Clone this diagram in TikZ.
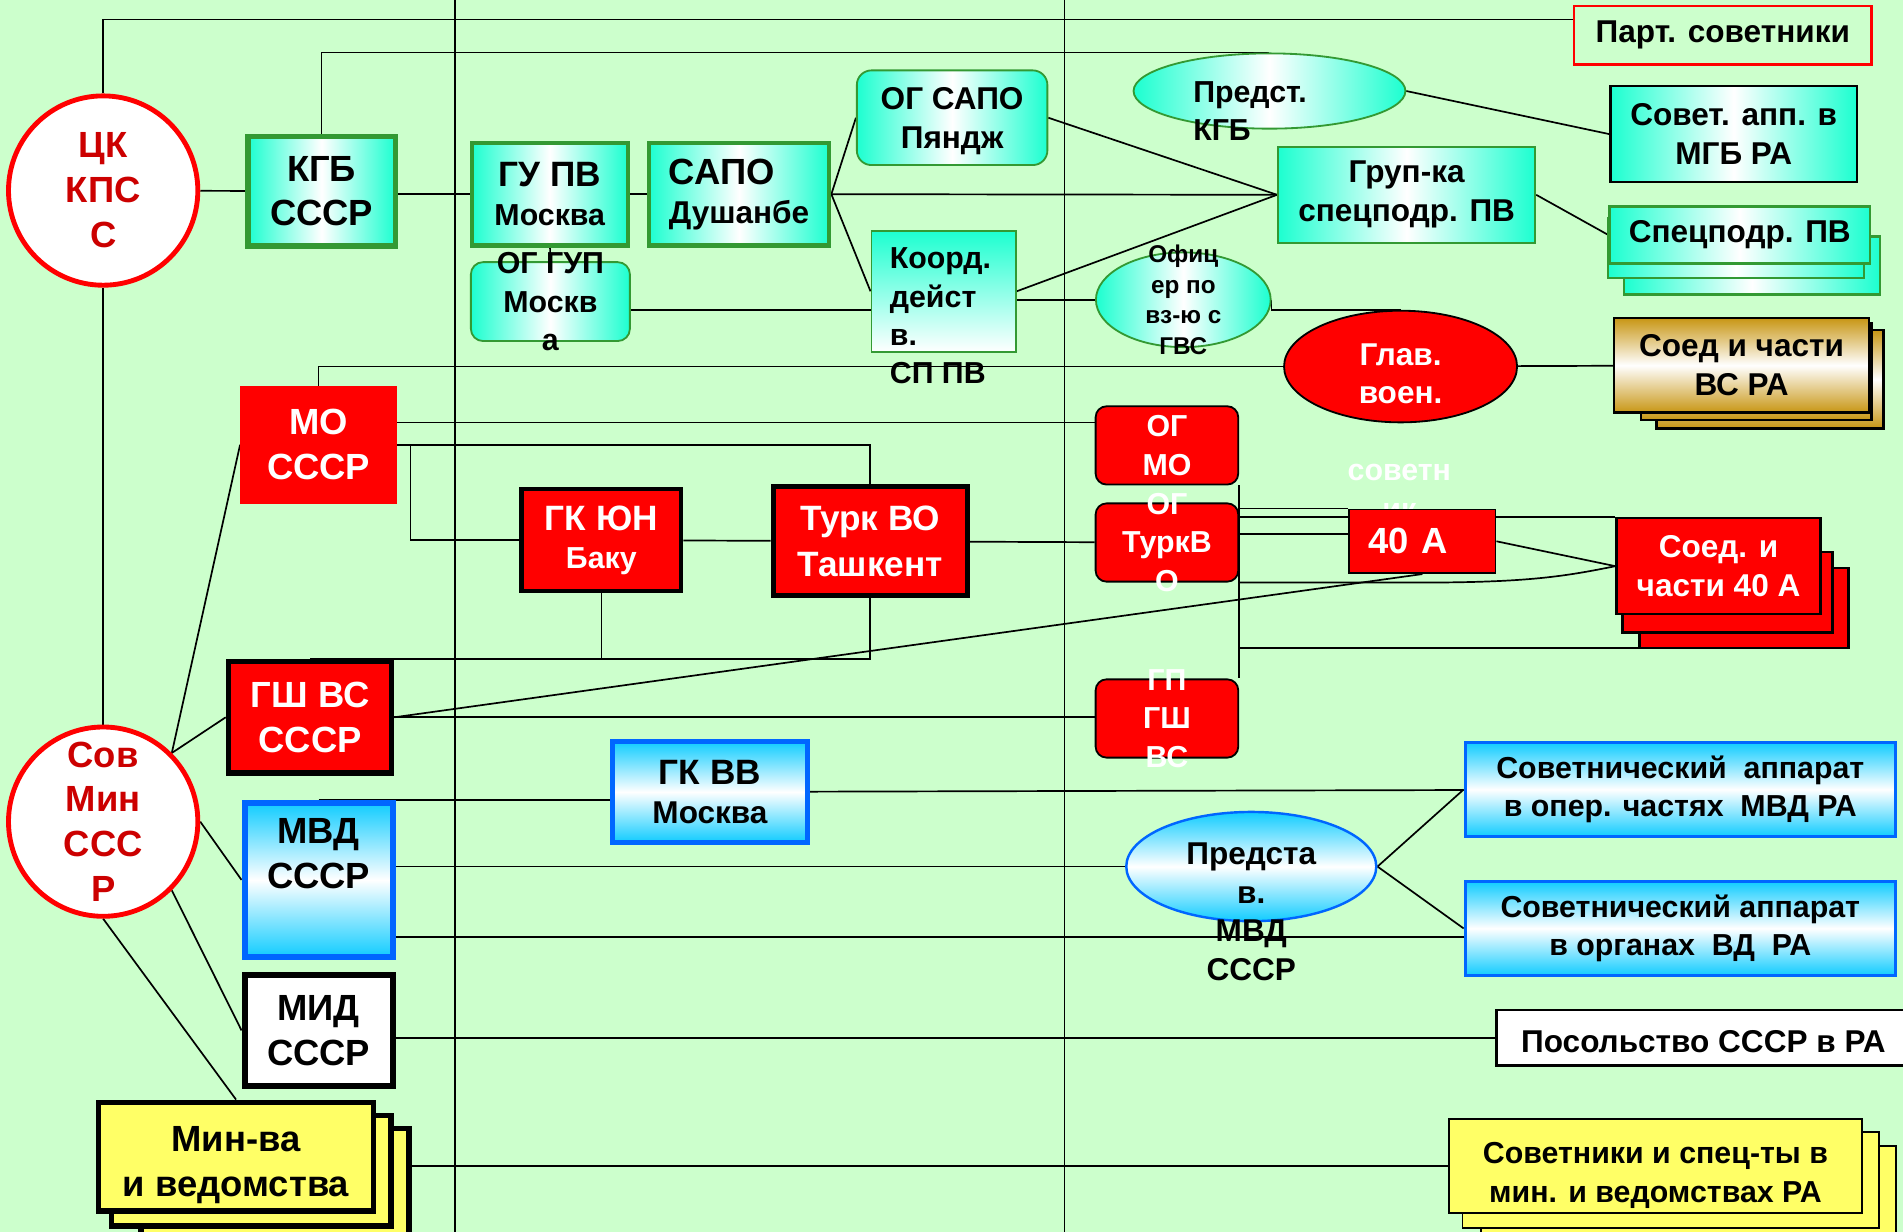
\documentclass[tikz,border=0pt]{standalone}
\usepackage{fontspec}
\setmainfont{Liberation Sans}
\usetikzlibrary{shapes.geometric}
\definecolor{cBg}{RGB}{204,255,204}
\definecolor{cTeal}{RGB}{28,255,208}
\definecolor{cGreen}{RGB}{51,153,51}
\definecolor{cDark}{RGB}{204,0,0}
\definecolor{cBlue}{RGB}{0,102,255}
\definecolor{cCyan}{RGB}{17,204,255}
\definecolor{cYel}{RGB}{255,255,102}
\definecolor{cGold}{RGB}{200,150,20}
\pgfdeclarelayer{bg}
\pgfdeclarelayer{lines}
\pgfsetlayers{bg,lines,main}
\tikzset{
  conn/.style={line width=1.4pt},
  t30/.style={font=\fontsize{30}{37}\selectfont\bfseries},
  t26/.style={font=\fontsize{26}{32}\selectfont\bfseries},
  t25/.style={font=\fontsize{25}{31.6}\selectfont\bfseries},
  t20/.style={font=\fontsize{20}{25.3}\selectfont\bfseries},
  org/.style={circle, draw=red, line width=4pt, fill=white, text=cDark, inner sep=0pt, minimum size=156pt, t30, align=center},
  tealh/.style={draw=cGreen, left color=cTeal, right color=cTeal, middle color=white, inner sep=0pt, align=center},
  tealv/.style={draw=cGreen, top color=cTeal, bottom color=white, inner sep=0pt},
  bluev/.style={draw=cBlue, top color=cCyan, bottom color=cCyan, middle color=white, inner sep=0pt, align=center},
  goldv/.style={draw=black, line width=2pt, top color=cGold, bottom color=cGold, middle color=white, inner sep=0pt, align=center},
  redbox/.style={fill=red, text=white, inner sep=0pt, align=center},
  redround/.style={fill=red, draw=black, line width=1.5pt, rounded corners=9pt, text=white, inner sep=0pt, minimum width=117.5pt, minimum height=64.5pt, align=center},
  red40/.style={fill=red, draw=black, line width=2pt, inner sep=0pt, align=center},
  yelbox/.style={fill=cYel, draw=black, inner sep=0pt, align=center},
  overtext/.style={inner sep=0pt, align=center}
}
\begin{document}
\begin{tikzpicture}[x=1pt,y=-1pt]
\useasboundingbox (0,0) rectangle (1568,1015);
\begin{pgfonlayer}{bg}
\fill[cBg] (0,0) rectangle (1568,1015);
\end{pgfonlayer}

\node[org] (ck) at (85,157) {ЦК\\КПС\\С};
\node[org] (sovmin) at (85,677) {Сов\\Мин\\ССС\\Р};

\node[tealh, line width=4.5pt, minimum width=121.5pt, minimum height=90.5pt, t30] (kgb) at (265,157.5) {КГБ\\СССР};
\node[tealh, line width=3.5pt, minimum width=128.5pt, minimum height=84.5pt, t25] (gupv) at (453,160) {{\fontsize{29}{31.6}\selectfont ГУ ПВ}\\Москва};
\node[tealh, line width=3.5pt, minimum width=148.5pt, minimum height=84.5pt, t26, align=left] (sapo) at (609,160) {{\fontsize{30}{32}\selectfont САПО}\\Душанбе};
\node[tealh, line width=1.5pt, rounded corners=12pt, minimum width=157pt, minimum height=78pt, t26] (ogsapo) at (784.5,97) {};
\node[t26, overtext] (ogsapo-t) at ([yshift=-3pt]ogsapo.center) {ОГ САПО\\Пяндж};
\node[tealv, line width=1.5pt, minimum width=119pt, minimum height=100pt] (kord) at (777.5,240) {};
\node[tealh, line width=1.5pt, rounded corners=10pt, minimum width=131pt, minimum height=65pt] (ogup) at (453.5,248.5) {};
\node[tealh, line width=1.5pt, minimum width=212pt, minimum height=79pt, t26] (grupka) at (1159,160.5) {Груп-ка\\спецподр. ПВ};
\node[ellipse, tealh, line width=1.5pt, minimum width=224pt, minimum height=62pt] (predkgb) at (1046,75) {};
\node[tealh, draw=black, line width=2pt, minimum width=203pt, minimum height=79pt, t26] (sovapp) at (1428.5,110.5) {Совет. апп. в\\МГБ РА};
\node[draw=red, line width=2pt, minimum width=245pt, minimum height=48pt, t26, inner sep=0pt] (part) at (1419.5,29) {Парт. советники};
\draw[tealh, line width=2pt] (1338,195) rectangle (1549,242.5);
\draw[tealh, line width=2pt] (1325,180) rectangle (1536,229);
\node[tealh, line width=2pt, minimum width=215pt, minimum height=47pt, t26] (specpv) at (1433.5,193.5) {Спецподр. ПВ};
\node[ellipse, tealh, line width=1.5pt, minimum width=144pt, minimum height=78pt] (ofic) at (975,247) {};
\node[ellipse, fill=red, draw=black, line width=1.5pt, minimum width=192pt, minimum height=92pt] (glav) at (1154,302) {};
\node[t26, overtext, text=white] (glav-t) at ([yshift=-6pt]glav.center) {Глав.\\воен.};
\draw[goldv] (1365,272) rectangle (1552,353);
\draw[goldv] (1352,266) rectangle (1542,346);
\node[goldv, minimum width=210pt, minimum height=78pt, t26] (soedvs) at (1435,301) {Соед и части\\ВС РА};

\node[redbox, minimum width=129pt, minimum height=97pt, t30] (mo) at (262.5,366.5) {МО\\СССР};
\node[redround, t25] (ogmo) at (961.5,367) {ОГ\\МО};
\node[redround] (ogturk) at (961.5,447) {};
\node[redround] (gpgsh) at (961.5,592) {};
\node[redbox, draw=black, line width=3.5pt, minimum width=131.5pt, minimum height=84.5pt, t25] (gkyun) at (495.5,445) {{\fontsize{29}{31.6}\selectfont ГК ЮН}\\Баку};
\node[redbox, draw=black, line width=4pt, minimum width=160pt, minimum height=90pt, font=\fontsize{29}{38}\selectfont\bfseries] (turk) at (717,446) {Турк ВО\\Ташкент};
\node[redbox, draw=black, line width=4.5pt, minimum width=134.5pt, minimum height=91.5pt, t30] (gsh) at (255.5,591) {ГШ ВС\\СССР};
\node[t25, overtext, text=white, anchor=north] (a40-t) at (1153,382.5) {советн\\ик};
\node[redbox, draw=black, line width=1.5pt, minimum height=52.5pt, text width=88.5pt, inner xsep=16pt, align=left, t30] (a40) at (1172,446) {40 А};
\draw[red40] (1351,468) rectangle (1523,534);
\draw[red40] (1337,455) rectangle (1510,521);
\node[red40, minimum width=168pt, minimum height=79pt, t26, text=white] (soed40) at (1416,466.5) {Соед. и\\части 40 А};

\node[bluev, line width=5pt, minimum width=122pt, minimum height=127pt] (mvd) at (262.5,725) {};
\node[bluev, line width=4pt, minimum width=160pt, minimum height=83pt, t26] (gkvv) at (585,652.5) {{\fontsize{29}{33}\selectfont ГК ВВ}\\Москва};
\node[fill=white, draw=black, line width=5pt, minimum width=122pt, minimum height=91pt, t30, inner sep=0pt, align=center] (mid) at (262.5,849) {МИД\\СССР};
\draw[yelbox, line width=4.5pt] (116,930) rectangle (337,1030);
\draw[yelbox, line width=4.5pt] (92,919) rectangle (322,1010);
\node[yelbox, line width=4.5pt, minimum width=226.5pt, minimum height=89.5pt] (minva) at (194.5,953) {};
\node[t30, overtext] (minva-t) at ([yshift=-7pt]minva.center) {Мин-ва\\и ведомства};
\node[bluev, ellipse, line width=2pt, minimum width=206pt, minimum height=90pt] (predmvd) at (1031,714) {};
\node[bluev, line width=2.5pt, minimum width=354.5pt, minimum height=77.5pt, t25] (sovmvd1) at (1384.5,650.5) {Советнический~ аппарат\\в опер. частях~ МВД РА};
\node[bluev, line width=2.5pt, minimum width=354.5pt, minimum height=77.5pt, t25] (sovmvd2) at (1384.5,765) {Советнический аппарат\\в органах~ ВД~ РА};
\node[fill=white, draw=black, line width=2pt, minimum width=341pt, minimum height=46pt, inner sep=0pt] (posol) at (1403.5,855) {};
\node[t26, overtext] (posol-t) at ([yshift=-3pt]posol.center) {Посольство СССР в РА};
\draw[yelbox, line width=1.5pt] (1220,944) rectangle (1562,1030);
\draw[yelbox, line width=1.5pt] (1205,933) rectangle (1548,1012);
\node[yelbox, line width=1.5pt, minimum width=340.5pt, minimum height=77.5pt] (sovetniki) at (1364,960.5) {};
\node[t25, overtext] (sovetniki-t) at ([yshift=-8pt]sovetniki.center) {Советники и спец-ты в\\мин. и ведомствах РА};

\node[t25, overtext, anchor=north west, align=left] (kord-t) at (733,204) {Коорд.\\дейст\\в.\\СП ПВ};
\node[t25, overtext] (ogup-t) at (ogup) {ОГ ГУП\\Москв\\а};
\node[t25, overtext, anchor=north west, align=left] (predkgb-t) at (983,67) {Предст.\\КГБ};
\node[t20, overtext] (ofic-t) at (ofic) {Офиц\\ер по\\вз-ю с\\ГВС};
\node[t25, overtext, text=white] (ogturk-t) at (ogturk) {ОГ\\ТуркВ\\О};
\node[t25, overtext, text=white] (gpgsh-t) at (gpgsh) {ГП\\ГШ\\ВС};
\node[t30, overtext, anchor=north] (mvd-t) at (262.5,674.5) {МВД\\СССР};
\node[t26, overtext, anchor=north] (predmvd-t) at (1031,694) {Предста\\в.\\МВД\\СССР};

\coordinate (moline) at ([yshift=-14pt]ogmo.north west);
\coordinate (a40l) at ([yshift=6pt]a40.west);
\coordinate (mvdl) at ([yshift=-47pt]mvd.east);
\coordinate (s40c) at (1351,534);
\begin{pgfonlayer}{lines}
\draw[conn] (375,0) -- (375,1015);
\draw[conn] (877,0) -- (877,1015);
\draw[conn] (ck.north) |- ([yshift=-12pt]part.north west);
\draw[conn] (ck) -- (sovmin);
\draw[conn] (ck) -- (kgb);
\draw[conn] (kgb.north) |- (predkgb.north);
\draw[conn] (kgb.east |- gupv.west) -- (gupv.west);
\draw[conn] (gupv) -- (sapo);
\draw[conn] (gupv) -- (ogup);
\draw[conn] (sapo.east) -- (ogsapo.west);
\draw[conn] (sapo.east) -- (kord.west);
\draw[conn] (sapo.east) -- (grupka.west);
\draw[conn] (ogsapo.east) -- (grupka.west);
\draw[conn] (kord.east) -- (grupka.west);
\draw[conn] (kord.east |- ofic.west) -- (ofic.west);
\draw[conn] ([yshift=-7pt]ogup.east) -- ([yshift=-7pt]ogup.east -| kord.west);
\draw[conn] (ofic.east) |- (glav.north);
\draw[conn] (mo.north) |- (glav.west);
\draw[conn] (glav) -- (soedvs);
\draw[conn] (grupka.east) -- (specpv.west);
\draw[conn] (predkgb.east) -- (sovapp.west);
\draw[conn] (mo.east |- moline) -- (moline);
\draw[conn] (mo.east) -| (turk.north);
\draw[conn] ([xshift=11pt]mo.east) |- (gkyun.west);
\draw[conn] (gkyun) -- (turk);
\draw[conn] (turk) -- (ogturk);
\draw[conn] (gkyun.south) |- (gsh.north);
\draw[conn] (turk.south) |- (gsh.north);
\draw[conn] (gsh.east) -- (a40.south);
\draw[conn] (gsh.east) -- (gsh.east -| gpgsh.west);
\draw[conn] (sovmin.45) -- (mo.west);
\draw[conn] (sovmin.45) -- (gsh.west);
\draw[conn] (sovmin.east) -- (mvd.west);
\draw[conn] (sovmin.-45) -- (mid.west);
\draw[conn] (sovmin.south) -- (minva.north);
\draw[conn] (mvd.north) -- (mvd.north -| gkvv.west);
\draw[conn] (gkvv) -- (sovmvd1);
\draw[conn] (mvd.east |- predmvd.west) -- (predmvd.west);
\draw[conn] (mvdl) -- (mvdl -| sovmvd2.west);
\draw[conn] (predmvd.east) -- (sovmvd1.west);
\draw[conn] (predmvd.east) -- (sovmvd2.west);
\draw[conn] (mid.east |- posol.west) -- (posol.west);
\draw[conn] (minva.east |- sovetniki.west) -- (sovetniki.west);
\draw[conn] (ogturk.north east |- a40.north) -- (a40.north west);
\draw[conn] (ogturk.east |- soed40.north) -- (soed40.north west);
\draw[conn] (a40l -| ogturk.east) -- (a40l);
\draw[conn] (ogturk.south east) -- ++(150,0) .. controls +(90,0) and +(-40,8) .. (soed40.west);
\draw[conn] (a40.east) -- (soed40.west);
\draw[conn] (ogmo.south east) -- (gpgsh.north east);
\draw[conn] (s40c -| ogmo.east) -- (s40c);
\end{pgfonlayer}
\end{tikzpicture}
\end{document}
